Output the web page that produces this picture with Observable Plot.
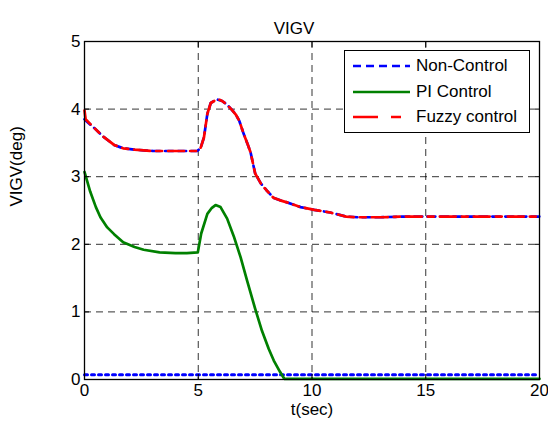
<!DOCTYPE html>
<html>
<head>
<meta charset="utf-8">
<script src="https://cdn.jsdelivr.net/npm/d3@7"></script>
<script src="https://cdn.jsdelivr.net/npm/@observablehq/plot@0.6"></script>
<style>
  body { margin: 0; background: white; }
  #wrap { position: relative; width: 548px; height: 429px; font-family: "Liberation Sans", Arial, sans-serif; }
  #legend { position: absolute; left: 344px; top: 50px; width: 186px; height: 83px; border: 1px solid #000; background: #fff; box-sizing: border-box; }
  .row { position: absolute; left: 8px; height: 20px; display: flex; align-items: center; font-size: 17px; color: #000; white-space: nowrap; }
  .row svg { width: 57px; height: 6px; margin-right: 6px; }
</style>
</head>
<body>
<div id="wrap"></div>
<script>
const xTicks = [0, 5, 10, 15, 20];
const yTicks = [0, 1, 2, 3, 4, 5];

const tUpper = [0, 0.05, 0.4, 0.8, 1.3, 1.7, 2.2, 2.6, 3.0, 3.5, 4.0, 4.5, 4.95, 5.1, 5.25, 5.4, 5.55, 5.7, 5.85, 6.05, 6.25, 6.45, 6.65, 6.8, 7.0, 7.15, 7.3, 7.5, 7.75, 8.0, 8.3, 8.6, 8.9, 9.5, 10.1, 10.8, 11.5, 12, 13, 14, 15, 16, 17, 18, 19, 20];
const nonControl = [3.85, 3.83, 3.73, 3.6, 3.47, 3.42, 3.40, 3.39, 3.38, 3.38, 3.38, 3.38, 3.38, 3.42, 3.58, 3.93, 4.09, 4.12, 4.14, 4.12, 4.07, 4.0, 3.92, 3.83, 3.63, 3.5, 3.36, 3.05, 2.9, 2.8, 2.69, 2.65, 2.62, 2.55, 2.51, 2.47, 2.41, 2.40, 2.40, 2.41, 2.41, 2.41, 2.41, 2.41, 2.41, 2.41];
const fuzzy = [3.98, 3.85, 3.73, 3.6, 3.47, 3.42, 3.40, 3.39, 3.38, 3.38, 3.38, 3.38, 3.38, 3.42, 3.58, 3.93, 4.09, 4.12, 4.15, 4.12, 4.07, 4.0, 3.92, 3.83, 3.63, 3.5, 3.36, 3.05, 2.9, 2.8, 2.69, 2.65, 2.62, 2.55, 2.51, 2.47, 2.41, 2.40, 2.40, 2.41, 2.41, 2.41, 2.41, 2.41, 2.41, 2.41];

const tPI = [0, 0.25, 0.5, 0.7, 1.0, 1.3, 1.7, 2.2, 2.6, 3.3, 4.0, 4.5, 4.98, 5.13, 5.4, 5.6, 5.76, 5.98, 6.27, 6.56, 6.86, 7.15, 7.5, 7.8, 8.1, 8.32, 8.6, 8.78, 10, 15, 20];
const piControl = [3.07, 2.78, 2.55, 2.40, 2.25, 2.15, 2.03, 1.96, 1.92, 1.88, 1.87, 1.87, 1.88, 2.16, 2.45, 2.54, 2.58, 2.55, 2.38, 2.12, 1.81, 1.46, 1.05, 0.72, 0.45, 0.28, 0.11, 0.01, 0.01, 0.01, 0.01];

const tBase = [0, 20];
const baseLine = [0.07, 0.07];

const upperNC = tUpper.map((t, i) => ({t, v: nonControl[i]}));
const upperFz = tUpper.map((t, i) => ({t, v: fuzzy[i]}));
const pi = tPI.map((t, i) => ({t, v: piControl[i]}));
const base = tBase.map((t, i) => ({t, v: baseLine[i]}));

const gridStyle = {stroke: "#000", strokeOpacity: 0.8, strokeDasharray: "7,5", strokeWidth: 1};

const chart = Plot.plot({
  width: 548, height: 429,
  marginLeft: 84, marginRight: 9, marginTop: 41, marginBottom: 50,
  x: {domain: [0, 20]},
  y: {domain: [0, 5]},
  style: {fontFamily: "'Liberation Sans', Arial, sans-serif", fontSize: "17px", background: "white", color: "black", overflow: "visible"},
  marks: [
    Plot.gridX(xTicks, gridStyle),
    Plot.gridY(yTicks, gridStyle),
    Plot.line(base, {x: "t", y: "v", stroke: "#0000ff", strokeWidth: 3, strokeDasharray: "3,4"}),
    Plot.line(pi, {x: "t", y: "v", stroke: "#008000", strokeWidth: 2.7}),
    Plot.line(upperNC, {x: "t", y: "v", stroke: "#0000ff", strokeWidth: 2.7, strokeDasharray: "8,5"}),
    Plot.line(upperFz, {x: "t", y: "v", stroke: "#ff0000", strokeWidth: 2.7, strokeDasharray: "16,6,6,6"}),
    Plot.frame({stroke: "#000", strokeWidth: 1.3}),
    Plot.axisX(xTicks, {anchor: "bottom", tickSize: 0, tickPadding: 4, label: null, fontSize: 17, tickFormat: "d"}),
    Plot.axisY(yTicks, {anchor: "left", tickSize: 0, tickPadding: 4, label: null, fontSize: 17, tickFormat: "d"}),
    Plot.axisX(xTicks, {anchor: "bottom", tickSize: -5, tickFormat: () => "", label: null}),
    Plot.axisX(xTicks, {anchor: "top", tickSize: -5, tickFormat: () => "", label: null}),
    Plot.axisY(yTicks, {anchor: "left", tickSize: -5, tickFormat: () => "", label: null}),
    Plot.axisY(yTicks, {anchor: "right", tickSize: -5, tickFormat: () => "", label: null}),
    Plot.text(["VIGV"], {frameAnchor: "top", dy: -20, dx: -18, fontSize: 17}),
    Plot.text(["t(sec)"], {frameAnchor: "bottom", dy: 35, fontSize: 17}),
    Plot.text(["VIGV(deg)"], {frameAnchor: "left", dx: -68, dy: -4, rotate: -90, fontSize: 17})
  ]
});
document.getElementById("wrap").appendChild(chart);

const legendItems = [
  {label: "Non-Control", color: "#0000ff", dash: "8,5"},
  {label: "PI Control", color: "#008000", dash: "none"},
  {label: "Fuzzy control", color: "#ff0000", dash: "25,13,10,13"}
];
const lg = document.createElement("div");
lg.id = "legend";
legendItems.forEach((it, i) => {
  const r = document.createElement("div");
  r.className = "row";
  r.style.top = (5 + i * 25.5) + "px";
  r.innerHTML = `<svg viewBox="0 0 57 6"><line x1="0" y1="3" x2="57" y2="3" stroke="${it.color}" stroke-width="2.7" stroke-dasharray="${it.dash}"/></svg><span>${it.label}</span>`;
  lg.appendChild(r);
});
document.getElementById("wrap").appendChild(lg);
</script>
</body>
</html>
